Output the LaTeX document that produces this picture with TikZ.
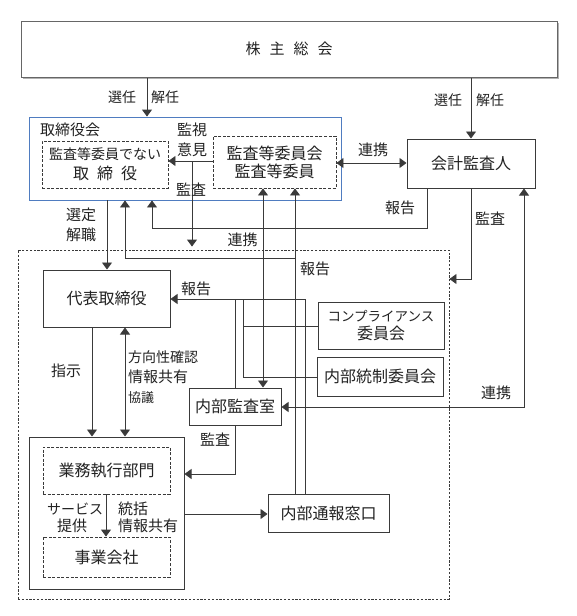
\documentclass[tikz,border=0pt]{standalone}
\usepackage{fontspec}
\setmainfont{Noto Sans CJK JP}
\usetikzlibrary{arrows.meta,shadows}
\definecolor{ln}{HTML}{3A3A3A}
\definecolor{bl}{HTML}{4F7CC0}
\definecolor{txt}{HTML}{222222}
\newcommand{\fsz}[2]{\fontsize{#1pt}{#2pt}\selectfont}
\begin{document}
\begin{tikzpicture}[x=1pt,y=-1pt,
  box/.style={draw=ln, line width=1.0pt, fill=white, inner sep=0pt, align=center, text=txt, font=\fsz{16}{18}},
  dbox/.style={draw=ln, line width=0.9pt, dash pattern=on 3pt off 1.6pt, inner sep=0pt, align=center, text=txt, font=\fsz{16}{18}},
  conn/.style={draw=ln, line width=0.9pt},
  arr/.style={conn, -{Triangle[length=7pt,width=10pt]}},
  darr/.style={conn, {Triangle[length=7pt,width=10pt]}-{Triangle[length=7pt,width=10pt]}},
  lbl/.style={inner sep=0pt, text=txt, font=\fsz{15}{18}}]
\useasboundingbox (0,0) rectangle (576,616);
\fill[white] (0,0) rectangle (576,616);

% x / y helper coordinates
\foreach \v in {92,106,107,125,147,152,192,235,243,263,295,305,427,471,524}
  \coordinate (X\v) at (\v,0);
\foreach \v in {161,163,228,258,279,299,326,377,407,474,514}
  \coordinate (Y\v) at (0,\v);

% boxes
\node[box, draw=gray!80!black, drop shadow={shadow xshift=2pt,shadow yshift=-2pt,fill=gray!60,opacity=1},
      minimum width=536pt, minimum height=56pt, font=\fsz{15}{18}] (gm) at (289,49)
      {株\hspace{0.6em}主\hspace{0.6em}総\hspace{0.6em}会};
\node[draw=bl, line width=0.9pt, minimum width=312pt, minimum height=83pt, inner sep=0pt] (board) at (185,158.5) {};
\node[lbl, anchor=west] (boardlbl) at (40,130) {取締役会};
\node[dbox, minimum width=126pt, minimum height=47pt, font=\fsz{14}{20}] (nd) at (105,164.5)
      {監査等委員でない\\{\fsz{16}{20}取\hspace{0.5em}締\hspace{0.5em}役}};
\node[dbox, minimum width=123pt, minimum height=52pt] (com) at (274.5,162) {監査等委員会\\監査等委員};
\node[box, minimum width=128pt, minimum height=49pt] (acct) at (471,163.5) {会計監査人};
\node[draw=ln, line width=0.9pt, dash pattern=on 2.2pt off 1.6pt, minimum width=431pt, minimum height=349pt, inner sep=0pt] (outer) at (233.5,424.5) {};
\node[box, minimum width=127pt, minimum height=57pt] (rep) at (106.5,298.5) {代表取締役};
\node[box, minimum width=126pt, minimum height=47pt] (comp) at (381,325.5) {{\fsz{13.5}{18}コンプライアンス}\\委員会};
\node[box, minimum width=126pt, minimum height=39pt] (ic) at (380,376.5) {内部統制委員会};
\node[box, minimum width=92pt, minimum height=37pt] (iao) at (235,406.5) {内部監査室};
\node[box, minimum width=155pt, minimum height=152pt] (exec) at (106.5,513) {};
\node[dbox, minimum width=127pt, minimum height=47pt] (dept) at (106.5,470.5) {業務執行部門};
\node[dbox, minimum width=127pt, minimum height=40pt] (sub) at (106.5,557) {事業会社};
\node[box, minimum width=121pt, minimum height=38pt] (whistle) at (328.5,513) {内部通報窓口};

% connectors
\draw[arr] (gm.south -| X147) -- (board.north -| X147);
\draw[arr] (gm.south -| X471) -- (acct.north);
\draw[arr] (com.west |- Y161) -- (nd.east |- Y161);
\draw[arr, shorten >=3pt] (X192 |- Y161) -- (outer.north -| X192);
\draw[arr] (board.south -| X107) -- (rep.north -| X107);
\draw[arr] (whistle.north -| X295) -- (com.south -| X295);
\draw[arr] (X295 |- Y258) -| (board.south -| X125);
\draw[arr] (acct.south -| X427) |- (X152 |- Y228) -- (board.south -| X152);
\draw[darr] (com.south -| X263) -- (iao.north -| X263);
\draw[darr] (com.east |- Y163) -- (acct.west |- Y163);
\draw[arr] (acct.south -| X471) |- (outer.east |- Y279);
\draw[darr] (acct.south -| X524) |- (iao.east |- Y407);
\draw[arr] (whistle.north -| X305) |- (rep.east |- Y299);
\draw[conn] (iao.north -| X235) -- (X235 |- Y299);
\draw[conn] (X243 |- Y299) |- (ic.west |- Y377);
\draw[conn] (X243 |- Y326) -- (comp.west |- Y326);
\draw[arr] (rep.south -| X92) -- (exec.north -| X92);
\draw[darr] (rep.south -| X125) -- (exec.north -| X125);
\draw[arr] (iao.south -| X235) |- (exec.east |- Y474);
\draw[arr] (exec.east |- Y514) -- (whistle.west |- Y514);
\draw[arr] (dept.south -| X106) -- (sub.north -| X106);

% labels
\node[lbl, font=\fsz{14}{18}] (l1) at (122,97) {選任};
\node[lbl, font=\fsz{14}{18}] (l2) at (165,97) {解任};
\node[lbl, font=\fsz{14}{18}] (l3) at (448,100) {選任};
\node[lbl, font=\fsz{14}{18}] (l4) at (490,100) {解任};
\node[lbl] (l5) at (192,130) {監視};
\node[lbl] (l6) at (192,150) {意見};
\node[lbl] (l7) at (191,189.5) {監査};
\node[lbl] (l8) at (81,215) {選定};
\node[lbl] (l9) at (81,234.5) {解職};
\node[lbl] (l10) at (242.5,240) {連携};
\node[lbl] (l11) at (400,208) {報告};
\node[lbl] (l12) at (373,150) {連携};
\node[lbl] (l13) at (490,218.5) {監査};
\node[lbl] (l14) at (315,269) {報告};
\node[lbl] (l15) at (196,288.5) {報告};
\node[lbl] (l16) at (496,393) {連携};
\node[lbl] (l17) at (66,371) {指示};
\node[lbl, anchor=west, font=\fsz{14}{18}] (l18) at (128,357.5) {方向性確認};
\node[lbl, anchor=west] (l19) at (128,376.5) {情報共有};
\node[lbl, anchor=west, font=\fsz{13}{15}] (l20) at (128,397.5) {協議};
\node[lbl] (l21) at (215,440) {監査};
\node[lbl, font=\fsz{14}{18}] (l22) at (75,509) {サービス};
\node[lbl] (l23) at (72,526) {提供};
\node[lbl, anchor=west] (l24) at (118,509) {統括};
\node[lbl, anchor=west] (l25) at (118,526) {情報共有};
\end{tikzpicture}
\end{document}
